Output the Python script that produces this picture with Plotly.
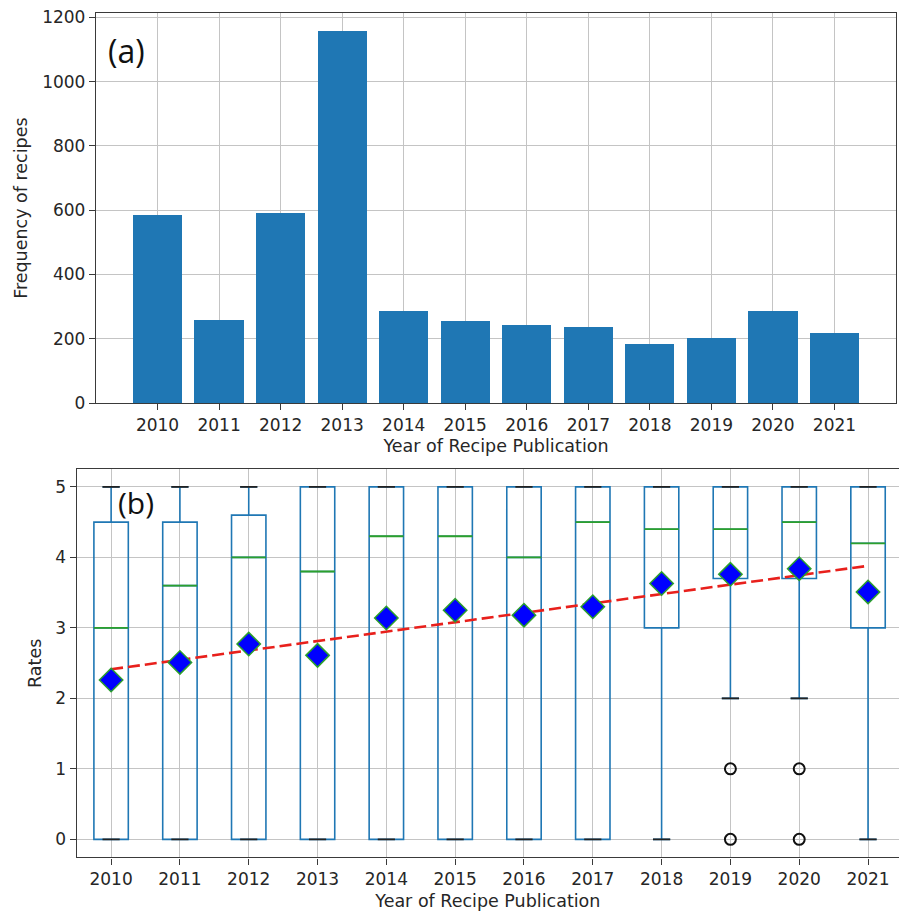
import numpy as np
import plotly.graph_objects as go

# ---------------- data ----------------
years = [2010, 2011, 2012, 2013, 2014, 2015, 2016, 2017, 2018, 2019, 2020, 2021]
year_labels = [str(y) for y in years]
freq = [584, 258, 592, 1156, 286, 255, 242, 236, 182, 201, 285, 216]

q1 = [0, 0, 0, 0, 0, 0, 0, 0, 3.0, 3.7, 3.7, 3.0]
median = [3.0, 3.6, 4.0, 3.8, 4.3, 4.3, 4.0, 4.5, 4.4, 4.4, 4.5, 4.2]
q3 = [4.5, 4.5, 4.6, 5, 5, 5, 5, 5, 5, 5, 5, 5]
lowfence = [0, 0, 0, 0, 0, 0, 0, 0, 0, 2, 2, 0]
upfence = [5, 5, 5, 5, 5, 5, 5, 5, 5, 5, 5, 5]
means = [2.26, 2.51, 2.77, 2.61, 3.14, 3.25, 3.18, 3.30, 3.63, 3.76, 3.84, 3.51]
outlier_years = [2019, 2019, 2020, 2020]
outlier_vals = [1, 0, 1, 0]

W, H = 899, 916
FONT = "DejaVu Sans"
TXT = "#262626"
GRID = "#c4c4c4"
SPINE = "#3a3a3a"
BLUE = "#1f77b4"

fig = go.Figure()

# ---------------- (a) bar chart ----------------
fig.add_trace(go.Bar(x=years, y=freq, width=0.8, marker=dict(color=BLUE, line=dict(width=0)),
                     xaxis="x", yaxis="y", showlegend=False))

# ---------------- (b) box plot ----------------
fig.add_trace(go.Box(x=years, q1=q1, median=median, q3=q3, lowerfence=lowfence, upperfence=upfence,
                     width=0.5, whiskerwidth=0.5, boxpoints=False,
                     line=dict(color=BLUE, width=1.6), fillcolor="rgba(0,0,0,0)",
                     xaxis="x2", yaxis="y2", showlegend=False, hoverinfo="skip"))

# medians (green) and caps (black)
mx, my, cx, cy = [], [], [], []
for i, yr in enumerate(years):
    mx += [yr - 0.25, yr + 0.25, None]
    my += [median[i], median[i], None]
    for v in (lowfence[i], upfence[i]):
        cx += [yr - 0.125, yr + 0.125, None]
        cy += [v, v, None]
fig.add_trace(go.Scatter(x=mx, y=my, mode="lines", line=dict(color="#2ca02c", width=1.8),
                         xaxis="x2", yaxis="y2", showlegend=False, hoverinfo="skip"))
fig.add_trace(go.Scatter(x=cx, y=cy, mode="lines", line=dict(color="#222222", width=1.8),
                         xaxis="x2", yaxis="y2", showlegend=False, hoverinfo="skip"))

# outliers
fig.add_trace(go.Scatter(x=outlier_years, y=outlier_vals, mode="markers",
                         marker=dict(symbol="circle-open", size=11, color="#111111", line=dict(width=2)),
                         xaxis="x2", yaxis="y2", showlegend=False))

# trend line (linear fit of the yearly means)
slope, intercept = np.polyfit(years, means, 1)
trend_x = [years[0], years[-1]]
trend_y = [slope * x + intercept for x in trend_x]
fig.add_trace(go.Scatter(x=trend_x, y=trend_y, mode="lines",
                         line=dict(color="#e8201c", width=2.6, dash="12px,5px"),
                         xaxis="x2", yaxis="y2", showlegend=False))

# means
fig.add_trace(go.Scatter(x=years, y=means, mode="markers",
                         marker=dict(symbol="diamond", size=18, color="#0000ff",
                                     line=dict(color="#2ca02c", width=1.5)),
                         xaxis="x2", yaxis="y2", showlegend=False))

# ---------------- layout ----------------
def px_x(p):
    return p / W

def px_y(p):
    return 1 - p / H

axis_common = dict(showgrid=True, gridcolor=GRID, gridwidth=1.2, showline=True, linecolor=SPINE,
                   linewidth=1.4, ticks="outside", ticklen=6, tickwidth=1.3, tickcolor=SPINE,
                   tickfont=dict(family=FONT, size=17, color=TXT), zeroline=False,
                   automargin=False)
TFONT = dict(family=FONT, size=17.5, color=TXT)

fig.update_layout(
    width=W, height=H, margin=dict(l=0, r=0, t=0, b=0, autoexpand=False),
    paper_bgcolor="white", plot_bgcolor="white",
    font=dict(family=FONT, color=TXT),
    xaxis=dict(axis_common, domain=[px_x(96), px_x(896)], range=[2009, 2022],
               tickvals=years, ticktext=year_labels, mirror=True, layer="above traces",
               anchor="y",
               title=dict(text="Year of Recipe Publication", font=TFONT, standoff=6)),
    yaxis=dict(axis_common, domain=[px_y(403), px_y(13.3)], range=[0, 1213],
               tickvals=[0, 200, 400, 600, 800, 1000, 1200], mirror=True, layer="above traces",
               anchor="x",
               title=dict(text="Frequency of recipes", font=TFONT, standoff=10)),
    xaxis2=dict(axis_common, domain=[px_x(76.7), 1.0], range=[2009.5, 2021.45],
                tickvals=years, ticktext=year_labels, mirror=True, anchor="y2",
                title=dict(text="Year of Recipe Publication", font=TFONT, standoff=6)),
    yaxis2=dict(axis_common, domain=[px_y(857.3), px_y(469.3)], range=[-0.255, 5.25],
                tickvals=[0, 1, 2, 3, 4, 5], mirror=False, anchor="x2",
                title=dict(text="Rates", font=TFONT, standoff=9)),
    bargap=0,
)

fig.add_annotation(text="(a)", xref="x domain", yref="y domain", x=0.012, y=0.905,
                   xanchor="left", yanchor="middle", showarrow=False,
                   font=dict(family="Open Sans", size=32, color="#111111"))
fig.add_annotation(text="(b)", xref="x2 domain", yref="y2 domain", x=0.048, y=0.915,
                   xanchor="left", yanchor="middle", showarrow=False,
                   font=dict(family="Open Sans", size=30, color="#111111"))

fig.write_html("out.html")
